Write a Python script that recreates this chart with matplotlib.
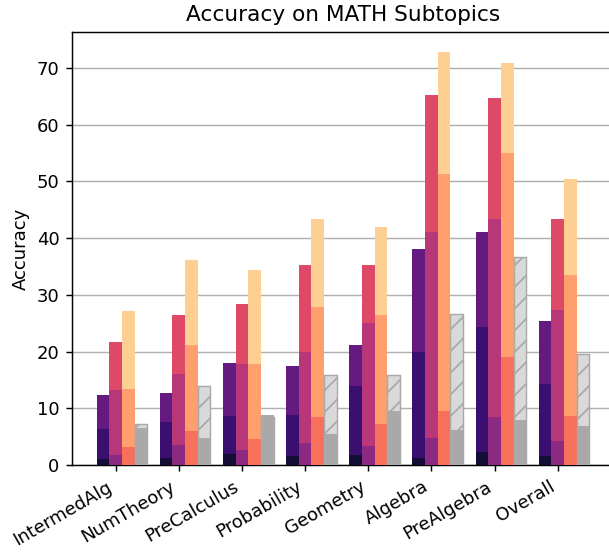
import numpy as np
import matplotlib
matplotlib.use("Agg")
import matplotlib.pyplot as plt

categories = ["IntermedAlg", "NumTheory", "PreCalculus", "Probability",
              "Geometry", "Algebra", "PreAlgebra", "Overall"]

# family 1: small / medium / large model
fam1_small = [1.0, 1.2, 2.0, 1.5, 1.7, 1.2, 2.3, 1.5]
fam1_mid   = [6.3, 7.5, 8.6, 8.8, 13.9, 19.9, 24.4, 14.2]
fam1_large = [12.3, 12.6, 18.0, 17.4, 21.2, 38.0, 41.0, 25.3]

# family 2: small / medium / large model
fam2_small = [1.7, 3.5, 2.7, 3.9, 3.3, 4.8, 8.5, 4.2]
fam2_mid   = [13.3, 16.0, 17.8, 19.9, 25.0, 41.1, 43.4, 27.4]
fam2_large = [21.6, 26.5, 28.4, 35.3, 35.3, 65.2, 64.6, 43.4]

# family 3: small / medium / large model
fam3_small = [3.2, 6.0, 4.5, 8.4, 7.2, 9.6, 19.0, 8.6]
fam3_mid   = [13.4, 21.1, 17.8, 27.8, 26.5, 51.3, 55.0, 33.4]
fam3_large = [27.1, 36.1, 34.3, 43.4, 41.9, 72.8, 70.9, 50.4]

# baselines: plain and hatched
base_plain   = [6.6, 4.7, 8.8, 5.4, 9.6, 6.2, 8.0, 6.8]
base_hatched = [7.3, 13.9, 8.5, 15.9, 15.9, 26.6, 36.7, 19.6]

DPI = 130
fig = plt.figure(figsize=(609 / DPI, 557 / DPI), dpi=DPI)
ax = fig.add_axes([72 / 609, 92 / 557, (614 - 72) / 609, (465 - 32) / 557])

colors = plt.get_cmap("magma")(np.linspace(0, 1, 11)[1:-1])

x = np.arange(len(categories))
w = 0.2

families = [
    (fam1_small, fam1_mid, fam1_large),
    (fam2_small, fam2_mid, fam2_large),
    (fam3_small, fam3_mid, fam3_large),
]
for i, (small, mid, large) in enumerate(families):
    pos = x + (i - 1) * w
    ax.bar(pos, large, w, color=colors[3 * i + 2], zorder=3)
    ax.bar(pos, mid, w, color=colors[3 * i + 1], zorder=3)
    ax.bar(pos, small, w, color=colors[3 * i], zorder=3)

pos = x + 2 * w
ax.bar(pos, base_hatched, w, color="#d9d9d9", edgecolor="#a9a9a9",
       hatch="//", linewidth=0.8, zorder=3)
ax.bar(pos, base_plain, w, color="#a9a9a9", zorder=3)

ax.set_xlim(-0.69, 7.89)
ax.set_ylim(0, 76.3)
ax.set_yticks(np.arange(0, 71, 10))
ax.yaxis.grid(True, color="#b0b0b0", linewidth=0.8, zorder=0)
ax.set_axisbelow(True)
ax.set_xticks(x)
ax.set_xticklabels(categories, rotation=30, ha="right")
ax.set_ylabel("Accuracy")
ax.set_title("Accuracy on MATH Subtopics")

fig.savefig("out.png", dpi=DPI)
